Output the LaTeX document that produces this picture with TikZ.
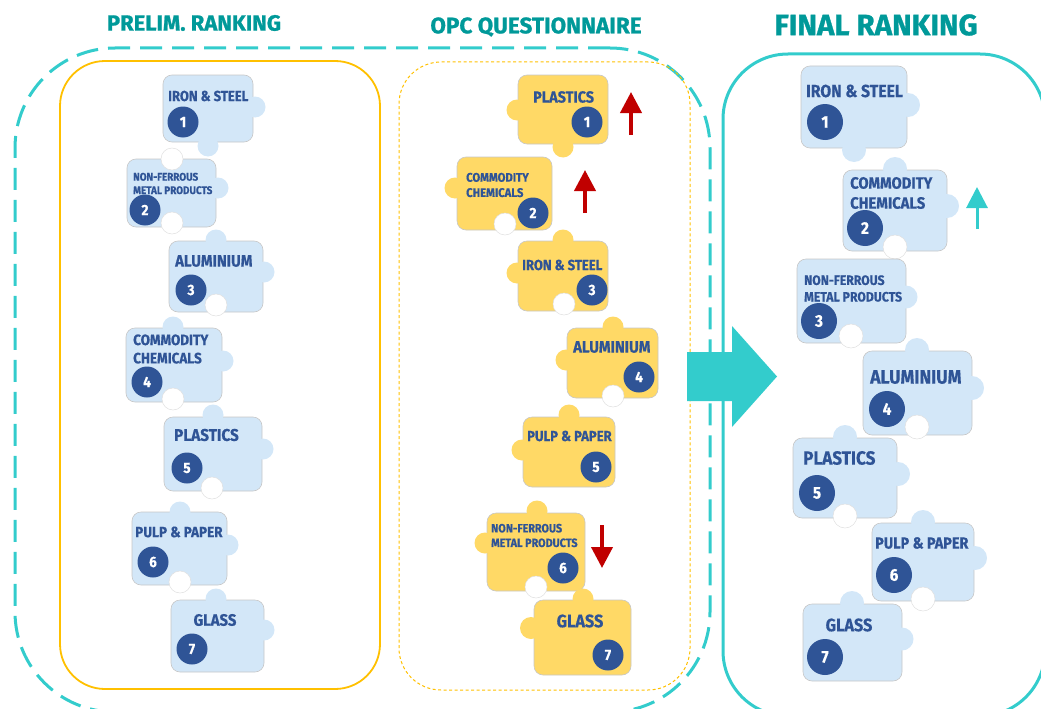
\documentclass[tikz,border=0pt]{standalone}
\usepackage{fontspec}
\setmainfont{Fira Sans}
\newfontfamily\pcfont[FakeStretch=0.9,FakeBold=0.5]{Fira Sans}
\newfontfamily\ttlfont[FakeBold=1]{Fira Sans}
\usetikzlibrary{arrows.meta,fit}
\definecolor{ecteal}{RGB}{51,204,204}
\definecolor{ttlteal}{RGB}{0,153,153}
\definecolor{amber}{RGB}{255,192,0}
\definecolor{pcblue}{RGB}{211,231,248}
\definecolor{pcyellow}{RGB}{255,217,102}
\definecolor{navy}{RGB}{47,84,150}
\definecolor{moved}{RGB}{192,0,0}

\newcommand{\fs}[1]{\fontsize{#1}{\fpeval{1.22*#1}}\selectfont}
\newcommand{\piece}[6]{\node[#6,fit={(#2,#3) (#4,#5)}] (#1) {};}
\newcommand{\knob}[4][10.5pt]{\fill[#2] (#3,#4) circle (#1);}
\newcommand{\hole}[3][11pt]{\filldraw[holeln] (#2,#3) circle (#1);}

\begin{document}
\begin{tikzpicture}[x=1pt,y=-1pt,
    pc/.style={draw=black!22,line width=.6pt,rounded corners=9pt,inner sep=0pt},
    bpc/.style={pc,fill=pcblue},
    ypc/.style={pc,fill=pcyellow},
    holeln/.style={fill=white,draw=black!12,line width=.5pt},
    lbl/.style={anchor=west,inner sep=0pt,text=navy,align=left,
      font=\pcfont\bfseries\fs{#1}},
    num/.style={circle,fill=navy,text=white,inner sep=0pt,
      minimum size=31pt,font=\pcfont\bfseries\fs{15}},
    bignum/.style={num,minimum size=36pt,font=\pcfont\bfseries\fs{17}},
    ttl/.style={text=ttlteal,font=\ttlfont\bfseries\fs{#1}},
    box/.style={inner sep=0pt},
    moveup/.style={line width=4pt,moved,-{Triangle[width=21pt,length=21pt]}}
  ]
  \useasboundingbox (0,0) rectangle (1041,709);

  % titles
  \node[ttl=22] (tprelim) at (194,23) {PRELIM. RANKING};
  \node[ttl=22.5] (topc) at (536,27) {OPC QUESTIONNAIRE};
  \node[ttl=29.5] (tfinal) at (876,25) {FINAL RANKING};

  % frames
  \node[box,fit={(15,48) (710,712)},draw=ecteal,line width=3pt,
    rounded corners=100pt,dash pattern=on 22pt off 10pt] (outer) {};
  \node[box,fit={(60,61) (380,689)},draw=amber,line width=1.8pt,
    rounded corners=45pt] (prelim) {};
  \node[box,fit={(399,62) (690,690)},draw=amber,line width=1pt,
    rounded corners=42pt,dash pattern=on 3pt off 2.5pt] (opc) {};
  \node[box,fit={(723,54) (1045,716)},draw=ecteal,line width=3pt,
    rounded corners=65pt] (final) {};

  % big arrow
  \fill[ecteal] (687,352) -- (732,352) -- (732,326) -- (777,376.5)
    -- (732,427) -- (732,401) -- (687,401) -- cycle;

  % preliminary ranking
  \piece{l1}{163}{75}{253}{142}{bpc}
  \knob{pcblue}{255}{107} \knob{pcblue}{208}{146}
  \node[lbl=14.5] (l1t) at (168,96) {IRON \& STEEL};
  \node[num] (l1n) at (183,122) {1};

  \piece{l2}{127}{159}{216}{227}{bpc}
  \knob{pcblue}{218}{188}
  \hole{172}{159} \hole{172}{223}
  \node[lbl=11] (l2t) at (133,183.5) {NON-FERROUS\\METAL PRODUCTS};
  \node[num] (l2n) at (145,210) {2};

  \piece{l3}{169}{241}{263}{312}{bpc}
  \knob{pcblue}{216}{240} \knob{pcblue}{264}{272}
  \hole{216}{305}
  \node[lbl=16.5] (l3t) at (175,261) {ALUMINIUM};
  \node[num] (l3n) at (191,290) {3};

  \piece{l4}{126}{328}{222}{402}{bpc}
  \knob{pcblue}{173}{327} \knob{pcblue}{223}{361}
  \hole{173}{399}
  \node[lbl=15] (l4t) at (133,349) {COMMODITY\\CHEMICALS};
  \node[num] (l4n) at (147,382) {4};

  \piece{l5}{164}{417}{262}{491}{bpc}
  \knob{pcblue}{213}{415} \knob{pcblue}{263}{449}
  \hole{212}{488}
  \node[lbl=17] (l5t) at (174,435) {PLASTICS};
  \node[num] (l5n) at (187,468) {5};

  \piece{l6}{132}{512}{227}{585}{bpc}
  \knob{pcblue}{180}{512} \knob{pcblue}{228}{545}
  \hole{180}{582}
  \node[lbl=15] (l6t) at (135,532) {PULP \& PAPER};
  \node[num] (l6n) at (153,562) {6};

  \piece{l7}{171}{600}{264}{672}{bpc}
  \knob{pcblue}{216}{599} \knob{pcblue}{264}{630}
  \node[lbl=16.5,anchor=center] (l7t) at (215,620) {GLASS};
  \node[num] (l7n) at (192,649) {7};

  % OPC questionnaire
  \piece{m1}{518}{75}{608}{144}{ypc}
  \knob{pcyellow}{517}{110} \knob{pcyellow}{563}{147}
  \node[lbl=16] (m1t) at (533,97) {PLASTICS};
  \node[num] (m1n) at (587,122) {1};

  \piece{m2}{457}{157}{552}{230}{ypc}
  \knob{pcyellow}{455}{188}
  \hole{505}{224}
  \node[lbl=12.5] (m2t) at (466,185) {COMMODITY\\CHEMICALS};
  \node[num] (m2n) at (533,213) {2};

  \piece{m3}{518}{241}{608}{311}{ypc}
  \knob{pcyellow}{563}{240} \knob{pcyellow}{517}{273}
  \hole{564}{304}
  \node[lbl=14.5] (m3t) at (522,265) {IRON \& STEEL};
  \node[num] (m3n) at (592,290) {3};

  \piece{m4}{567}{328}{658}{398}{ypc}
  \knob{pcyellow}{613}{327} \knob{pcyellow}{566}{360}
  \hole{613}{396}
  \node[lbl=16.5] (m4t) at (573,347) {ALUMINIUM};
  \node[num] (m4n) at (639,377) {4};

  \piece{m5}{523}{417}{615}{487}{ypc}
  \knob{pcyellow}{569}{415} \knob{pcyellow}{522}{450}
  \node[lbl=14.5] (m5t) at (527,436) {PULP \& PAPER};
  \node[num] (m5n) at (596,467) {5};

  \piece{m6}{487}{513}{585}{591}{ypc}
  \knob{pcyellow}{537}{511} \knob{pcyellow}{485}{543}
  \hole{536}{587}
  \node[lbl=12] (m6t) at (491,535.5) {NON-FERROUS\\METAL PRODUCTS};
  \node[num] (m6n) at (563,568) {6};

  \piece{m7}{534}{600}{631}{675}{ypc}
  \knob{pcyellow}{583}{599} \knob[11pt]{pcyellow}{531}{628}
  \node[lbl=18,anchor=center] (m7t) at (580,621) {GLASS};
  \node[num] (m7n) at (608,655) {7};

  % rank changes
  \coordinate (u1a) at (631,135); \coordinate (u1b) at (631,92);
  \coordinate (u2a) at (585,213); \coordinate (u2b) at (585,170);
  \coordinate (d6a) at (602,525); \coordinate (d6b) at (602,568);
  \draw[moveup] (u1a) -- (u1b);
  \draw[moveup] (u2a) -- (u2b);
  \draw[moveup] (d6a) -- (d6b);

  % final ranking
  \piece{f1}{801}{66}{907}{148}{bpc}
  \knob[12pt]{pcblue}{908}{105} \knob[12pt]{pcblue}{854}{150}
  \node[lbl=17.5] (f1t) at (806,91) {IRON \& STEEL};
  \node[bignum] (f1n) at (825,122) {1};

  \piece{f2}{843}{170}{947}{251}{bpc}
  \knob[12pt]{pcblue}{895}{169} \knob[12pt]{pcblue}{947}{206}
  \hole[12pt]{895}{247}
  \node[lbl=16.4] (f2t) at (850,193) {COMMODITY\\CHEMICALS};
  \node[bignum] (f2n) at (865,228) {2};

  \piece{f3}{797}{259}{906}{343}{bpc}
  \knob[11.5pt]{pcblue}{906}{297}
  \hole[12pt]{851}{336}
  \node[lbl=13.6] (f3t) at (804,288.5) {NON-FERROUS\\METAL PRODUCTS};
  \node[bignum] (f3n) at (819,321) {3};

  \piece{f4}{863}{351}{972}{435}{bpc}
  \knob[12pt]{pcblue}{917}{350} \knob[12pt]{pcblue}{972}{388}
  \hole[12pt]{917}{427}
  \node[lbl=19.5] (f4t) at (870,377) {ALUMINIUM};
  \node[bignum] (f4n) at (887,409) {4};

  \piece{f5}{793}{438}{897}{518}{bpc}
  \knob[12pt]{pcblue}{845}{437} \knob[12pt]{pcblue}{898}{474}
  \hole[12pt]{845}{516}
  \node[lbl=19] (f5t) at (803,458) {PLASTICS};
  \node[bignum] (f5n) at (817,493) {5};

  \piece{f6}{872}{523}{974}{601}{bpc}
  \knob[12pt]{pcblue}{923}{522} \knob[12pt]{pcblue}{975}{558}
  \hole[12pt]{923}{599}
  \node[lbl=16] (f6t) at (875,543) {PULP \& PAPER};
  \node[bignum] (f6n) at (894,575) {6};

  \piece{f7}{803}{604}{902}{681}{bpc}
  \knob[12pt]{pcblue}{852}{603} \knob[11.5pt]{pcblue}{902}{639}
  \node[lbl=18,anchor=center] (f7t) at (849,625) {GLASS};
  \node[bignum] (f7n) at (825,657) {7};

  \coordinate (fu2a) at (977,229); \coordinate (fu2b) at (977,187);
  \draw[moveup,ecteal,line width=3pt] (fu2a) -- (fu2b);
\end{tikzpicture}
\end{document}
